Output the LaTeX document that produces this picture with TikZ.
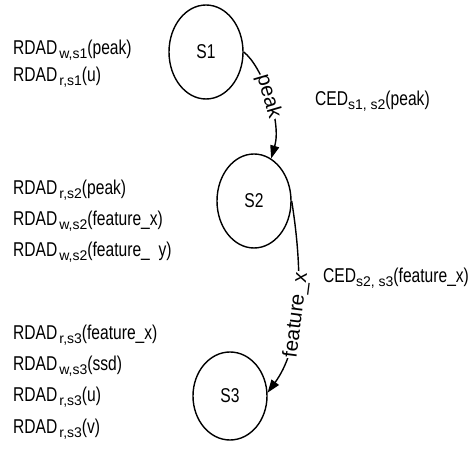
\documentclass[tikz,border=0pt]{standalone}
\usepackage{fontspec}
\setmainfont{Liberation Sans}[FakeStretch=0.78]
\newfontfamily\widesf{Liberation Sans}
\usetikzlibrary{shapes.geometric,arrows.meta}

% lowered subscript, set in the full-width face
\newcommand\lsub[1]{\raisebox{-4pt}{\widesf\fontsize{14}{14}\selectfont #1}}
% the same with a small gap before it
\newcommand\gsub[1]{\kern2pt\lsub{#1}}

\begin{document}
\begin{tikzpicture}[x=1pt,y=1pt,
  every node/.style={font=\fontsize{20}{31.3}\selectfont},
  state/.style={ellipse, draw, line width=1.4pt, minimum width=74pt,
    minimum height=94pt, inner sep=0pt},
  info/.style={align=left, inner sep=0pt, anchor=north west},
  trans/.style={line width=1.4pt, -{Triangle[length=13pt,width=9pt]}},
  tlabel/.style={sloped, fill=white, inner sep=1pt, font=\widesf\fontsize{20.5}{22}\selectfont}]
\useasboundingbox (0,0) rectangle (467,471);

% states
\node[state] (S1) at (206,419) {S1};
\node[state] (S2) at (254,270) {S2};
\node[state, minimum height=88pt] (S3) at (230,75) {S3};

% access annotations per state
\node[info, font=\fontsize{20}{27}\selectfont] (A1) at (13,431.5) {RDAD\gsub{w,s1}(peak)\\RDAD\gsub{r,s1}(u)};
\node[info] (A2) at (13,291.5) {RDAD\gsub{r,s2}(peak)\\RDAD\gsub{w,s2}(feature\_x)\\RDAD\gsub{w,s2}(feature\_\ \ y)};
\node[info] (A3) at (13,146.5) {RDAD\gsub{r,s3}(feature\_x)\\RDAD\gsub{w,s3}(ssd)\\RDAD\gsub{r,s3}(u)\\RDAD\gsub{r,s3}(v)};

% data passed along each transition
\node[anchor=west, inner sep=0pt] (C1) at (315,370) {CED\lsub{s1, s2}(peak)};
\node[anchor=west, inner sep=0pt] (C2) at (323,193) {CED\lsub{s2, s3}(feature\_x)};

% transitions
\draw[trans] (S1.east) .. controls (262,405) and (282,350) .. (S2.68)
  node[tlabel, pos=0.5] {peak};
\draw[trans] (S2.east) .. controls (306,180) and (298,120) .. (S3.5)
  node[tlabel, pos=0.5] {feature\_x};
\end{tikzpicture}
\end{document}
